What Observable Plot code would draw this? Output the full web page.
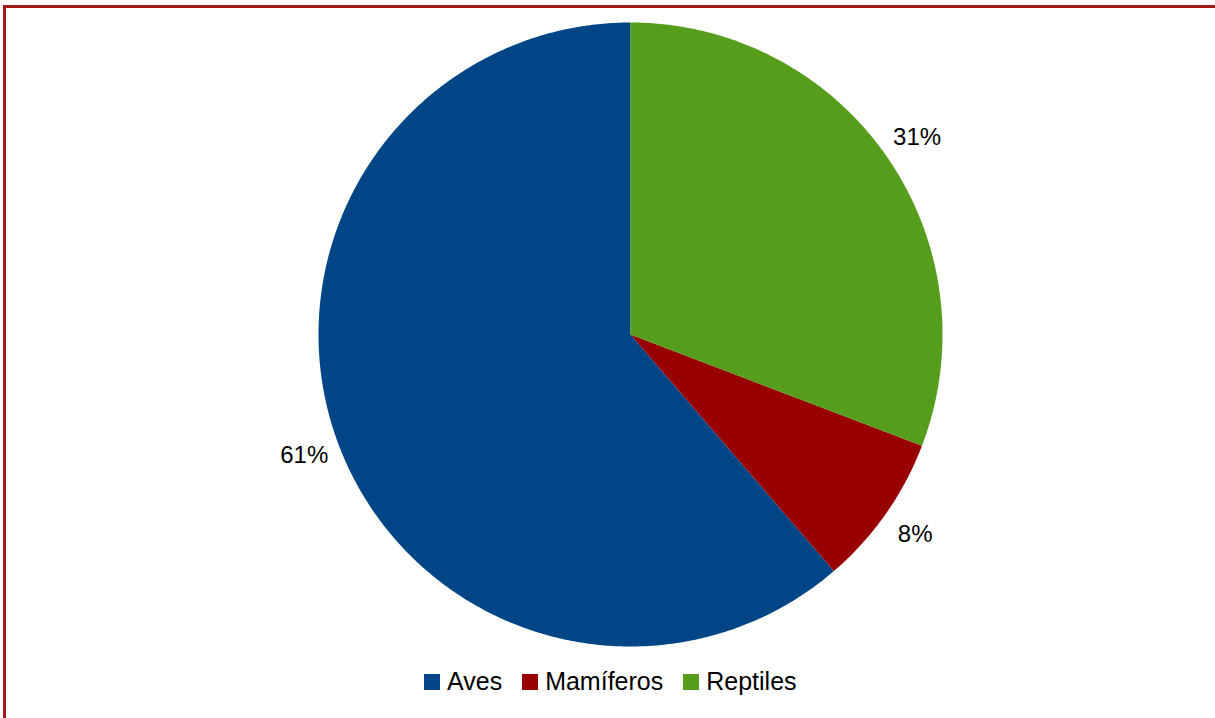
<!DOCTYPE html>
<html>
<head>
<meta charset="utf-8">
<script src="https://cdn.jsdelivr.net/npm/d3@7"></script>
<script src="https://cdn.jsdelivr.net/npm/@observablehq/plot@0.6"></script>
<style>
  html, body { margin: 0; padding: 0; background: #fff; }
  #page { position: relative; width: 1215px; height: 718px; overflow: hidden; font-family: "Liberation Sans", Arial, sans-serif; }
  #frame { position: absolute; left: 3px; top: 5px; right: -10px; bottom: -10px; border-top: 3px solid #a01818; border-left: 3px solid #a01818; pointer-events: none; }
  #chart { position: absolute; left: 0; top: 0; }
  #legend { position: absolute; left: 424px; top: 667px; display: flex; align-items: center; font-size: 25px; color: #000; white-space: nowrap; }
  .item { display: flex; align-items: center; margin-right: 20px; }
  .sw { width: 16px; height: 16px; margin-right: 7px; }
</style>
</head>
<body>
<div id="page">
  <div id="chart"></div>
  <div id="legend"></div>
  <div id="frame"></div>
</div>
<script>
const categories = ["Aves", "Mamíferos", "Reptiles"];
const values = [61.3, 7.9, 30.8];
const labels = ["61%", "8%", "31%"];
const colors = ["#004586", "#990000", "#579d1c"];

const R = 312;
const labelR = 348;

const pie = d3.pie().sort(null).startAngle(0).endAngle(-2 * Math.PI)(values);

const slicePts = [];
const labelPts = [];
pie.forEach((p, i) => {
  const a0 = p.startAngle, a1 = p.endAngle;
  const steps = Math.max(2, Math.ceil(Math.abs(a1 - a0) / (Math.PI / 360)));
  slicePts.push({name: categories[i], x: 0, y: 0});
  for (let k = 0; k <= steps; k++) {
    const a = a0 + (a1 - a0) * k / steps;
    slicePts.push({name: categories[i], x: R * Math.sin(a), y: R * Math.cos(a)});
  }
  const m = (a0 + a1) / 2;
  labelPts.push({text: labels[i], x: labelR * Math.sin(m), y: labelR * Math.cos(m)});
});

const chart = Plot.plot({
  width: 1215,
  height: 660,
  margin: 0,
  x: {domain: [-630, 585], axis: null},
  y: {domain: [-326, 334], axis: null},
  color: {domain: categories, range: colors},
  style: {background: "transparent", fontFamily: "Liberation Sans, Arial, sans-serif"},
  marks: [
    Plot.line(slicePts, {x: "x", y: "y", z: "name", fill: "name", stroke: "none", curve: "linear-closed"}),
    Plot.text(labelPts, {x: "x", y: "y", text: "text", fontSize: 24, fill: "#000", textAnchor: "middle"})
  ]
});
document.getElementById("chart").appendChild(chart);

const legend = document.getElementById("legend");
categories.forEach((c, i) => {
  const item = document.createElement("div");
  item.className = "item";
  const sw = document.createElement("div");
  sw.className = "sw";
  sw.style.background = colors[i];
  const t = document.createElement("span");
  t.textContent = c;
  item.appendChild(sw);
  item.appendChild(t);
  legend.appendChild(item);
});
</script>
</body>
</html>
